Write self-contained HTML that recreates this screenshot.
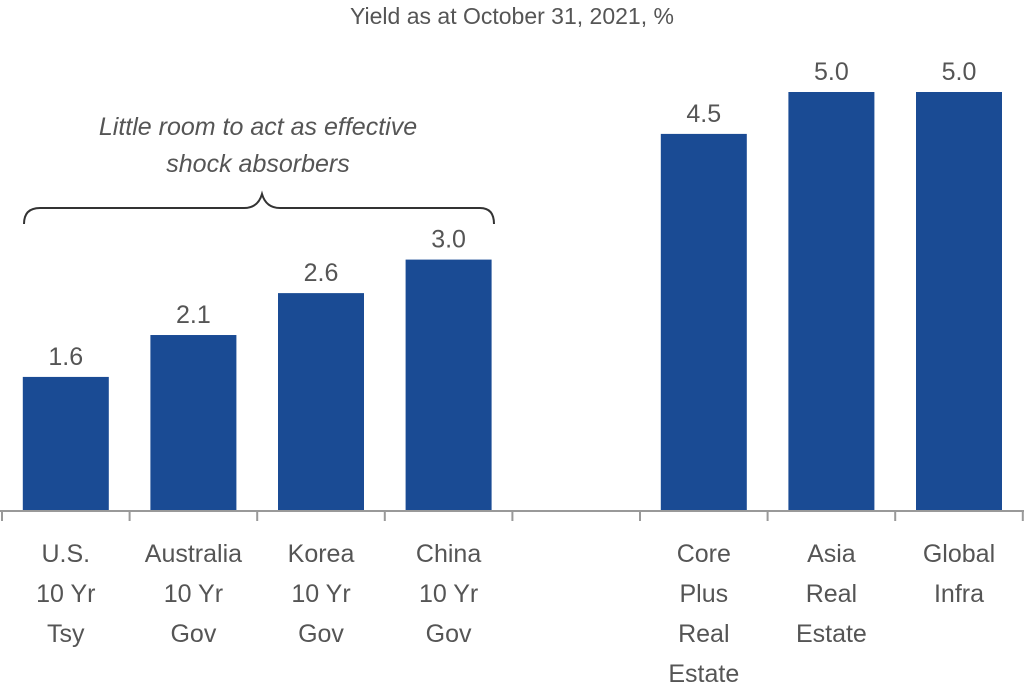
<!DOCTYPE html>
<html><head><meta charset="utf-8"><style>
body{margin:0;background:#fff;}
svg text{font-family:"Liberation Sans",sans-serif;fill:#555;}
</style></head><body>
<svg id="chart" width="1024" height="684" viewBox="0 0 1024 684" xmlns="http://www.w3.org/2000/svg">
<text x="512" y="24" text-anchor="middle" font-size="23">Yield as at October 31, 2021, %</text>
<g>
<text x="258" y="135" text-anchor="middle" font-size="25" font-style="italic">Little room to act as effective</text>
<text x="258" y="172" text-anchor="middle" font-size="25" font-style="italic">shock absorbers</text>
<path d="M24,224 Q24,208 40,208 L244,208 Q258,208 262,194 Q266,208 280,208 L480,208 Q494,208 494,224" fill="none" stroke="#333" stroke-width="2"/>
</g>
<g id="bars"></g>
<g id="axis"></g>
</svg>
<script>
const categories=[["U.S.","10 Yr","Tsy"],["Australia","10 Yr","Gov"],["Korea","10 Yr","Gov"],["China","10 Yr","Gov"],[],["Core","Plus","Real","Estate"],["Asia","Real","Estate"],["Global","Infra"]];
const values=[1.6,2.1,2.6,3.0,null,4.5,5.0,5.0];
const valueLabels=["1.6","2.1","2.6","3.0","","4.5","5.0","5.0"];
const NS="http://www.w3.org/2000/svg";
const x0=2,slotW=127.6,baseY=511,unit=83.8,barW=86;
function xs(i){return x0+i*slotW;}
function ys(v){return baseY-v*unit;}
const bars=document.getElementById('bars'),axis=document.getElementById('axis');
function mk(tag,attrs,parent){const e=document.createElementNS(NS,tag);for(const k in attrs)e.setAttribute(k,attrs[k]);parent.appendChild(e);return e;}
values.forEach((v,i)=>{
  const cx=xs(i)+slotW/2;
  if(v!==null){
    const r=mk('rect',{x:cx-barW/2,y:ys(v),width:barW,height:baseY-ys(v),fill:'#1a4b94'},bars);
    
    
    const t=mk('text',{x:cx,y:ys(v)-12,'text-anchor':'middle','font-size':'25'},bars);
    t.textContent=valueLabels[i];
    
    
  }
  categories[i].forEach((line,j)=>{
    const t=mk('text',{x:cx,y:562+j*40,'text-anchor':'middle','font-size':'25'},axis);
    t.textContent=line;
    
    
  });
});
const ax=mk('line',{x1:0,x2:1024,y1:baseY,y2:baseY,stroke:'#999','stroke-width':2},axis);


for(let i=0;i<=categories.length;i++){
  const tk=mk('line',{x1:xs(i),x2:xs(i),y1:baseY,y2:baseY+10,stroke:'#999','stroke-width':2},axis);
  
  
}
</script>
</body></html>
